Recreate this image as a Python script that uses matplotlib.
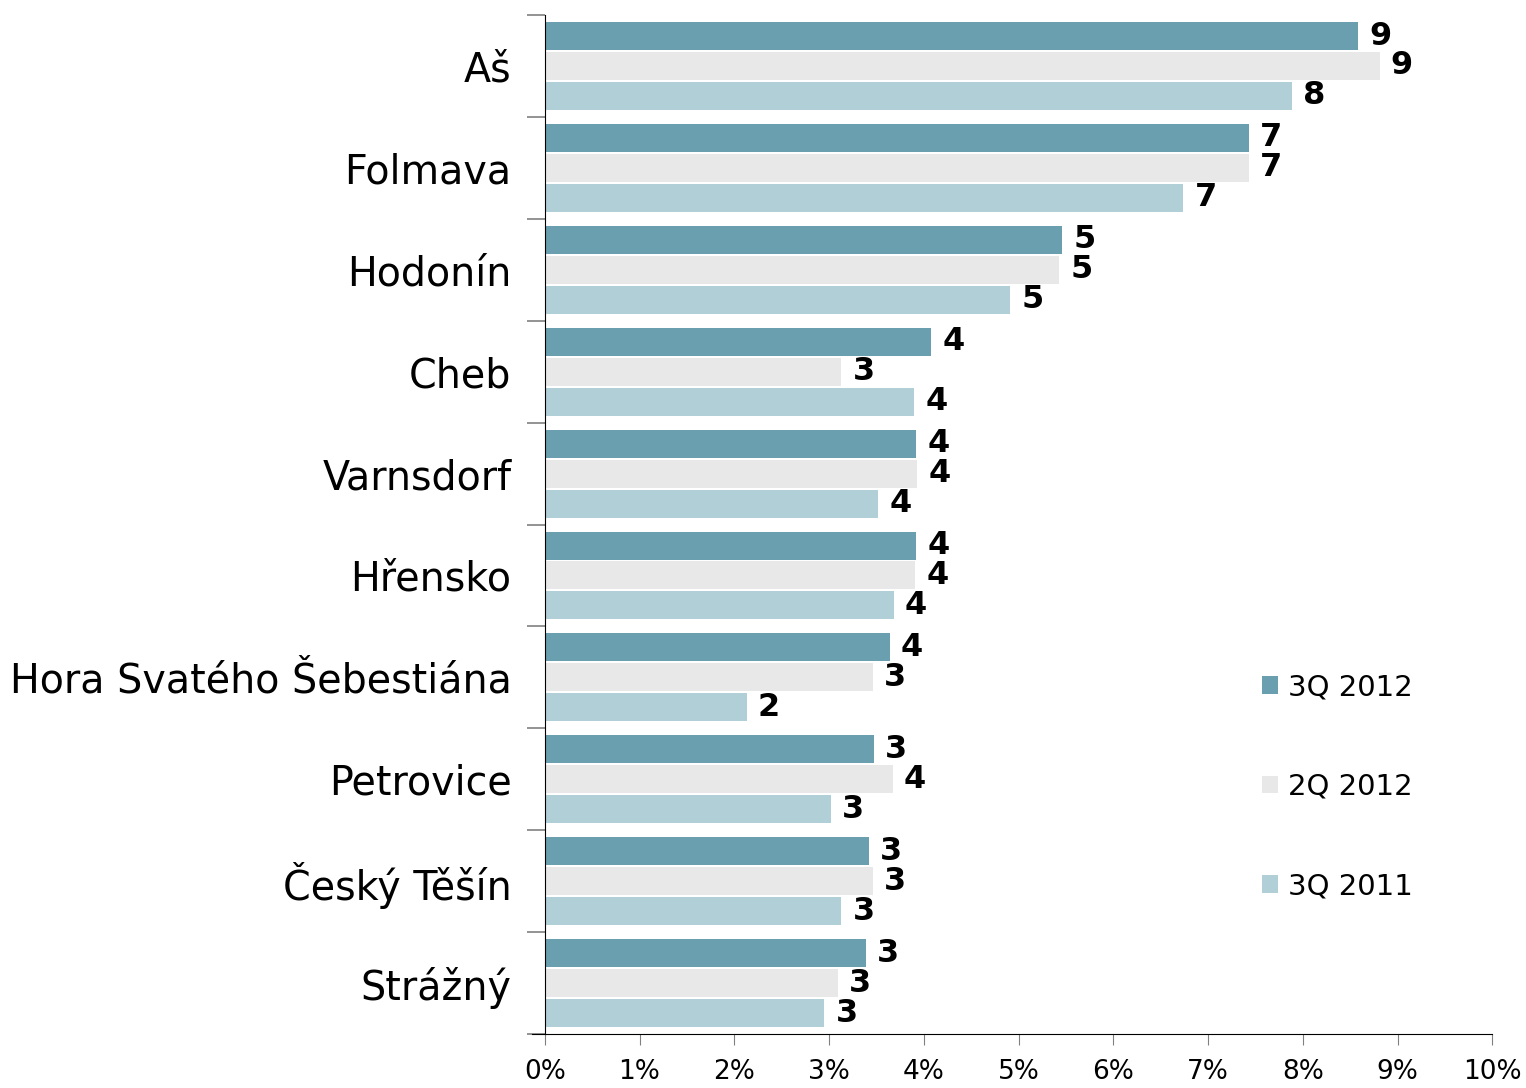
import matplotlib

matplotlib.use("Agg")
import matplotlib.pyplot as plt
import numpy as np
from matplotlib.ticker import FixedLocator, PercentFormatter

plt.rcParams["font.family"] = ["DejaVu Sans"]

# category order, top to bottom
crossings = ["Aš", "Folmava", "Hodonín", "Cheb", "Varnsdorf", "Hřensko",
             "Hora Svatého Šebestiána", "Petrovice", "Český Těšín", "Strážný"]
q3_2012 = [8.58, 7.43, 5.46, 4.08, 3.92, 3.92, 3.64, 3.47, 3.42, 3.39]
q2_2012 = [8.81, 7.43, 5.43, 3.13, 3.93, 3.91, 3.46, 3.67, 3.46, 3.09]
q3_2011 = [7.88, 6.74, 4.91, 3.90, 3.52, 3.68, 2.13, 3.02, 3.13, 2.95]
series = [("3Q 2012", q3_2012, "#699fae"),
          ("2Q 2012", q2_2012, "#e8e8e8"),
          ("3Q 2011", q3_2011, "#b0cfd6")]

fig = plt.figure(figsize=(15.26, 10.88), dpi=100)
ax = fig.add_axes([0.357, 0.0496, 0.621, 0.9366])

y = np.arange(len(crossings))
pitch = 0.294
height = 0.275
for k, (name, vals, col) in enumerate(series):
    pos = y + (k - 1) * pitch
    bars = ax.barh(pos, vals, height=height, color=col, label=name)
    ax.bar_label(bars, labels=[f"{v:.0f}" for v in vals], padding=8,
                 fontsize=23, fontweight="bold", color="black")

ax.set_xlim(0, 10)
ax.set_ylim(len(crossings) - 0.5, -0.5)
ax.xaxis.set_major_locator(FixedLocator(np.arange(0, 11)))
ax.xaxis.set_major_formatter(PercentFormatter(decimals=0))
ax.tick_params(axis="x", labelsize=19, length=8, color="#808080", pad=10)

ax.set_yticks(y)
ax.set_yticklabels(crossings)
ax.tick_params(axis="y", which="major", length=0, labelsize=28.5, pad=24)
ax.yaxis.set_minor_locator(FixedLocator(np.arange(-0.5, len(crossings), 1.0)))
ax.tick_params(axis="y", which="minor", length=13, color="#808080", width=1.2)

for side in ["top", "right"]:
    ax.spines[side].set_visible(False)
ax.spines["bottom"].set_bounds(-0.14, 10)
ax.spines["bottom"].set_clip_on(False)

ax.legend(loc="center left", bbox_to_anchor=(0.8098, 0.2767),
          bbox_transform=fig.transFigure, frameon=False,
          fontsize=21, handlelength=0.55, handleheight=0.55, handletextpad=0.35,
          labelspacing=2.45)

fig.savefig("out.png", dpi=100)
